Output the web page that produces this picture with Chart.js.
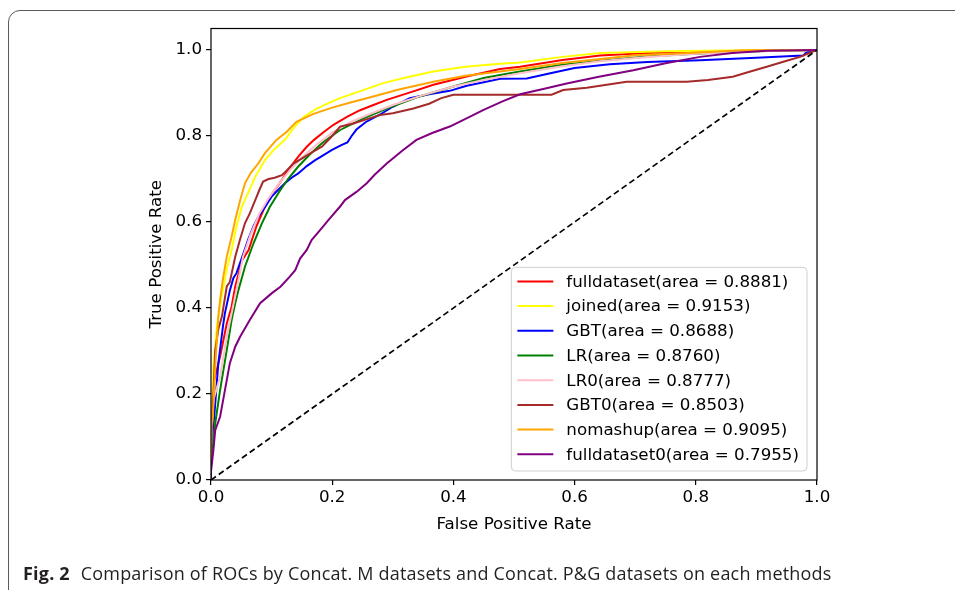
<!DOCTYPE html>
<html>
<head>
<meta charset="utf-8">
<script src="https://cdn.jsdelivr.net/npm/chart.js@4.4.1/dist/chart.umd.min.js"></script>
<style>
  html, body { margin: 0; padding: 0; background: #fff; }
  body { width: 955px; height: 590px; position: relative; overflow: hidden; }
  #frame {
    position: absolute; left: 8px; top: 10px; width: 1000px; height: 620px;
    border: 1.5px solid #5a5a5a; border-radius: 12px; box-sizing: border-box;
  }
  #wrap { position: absolute; left: 0; top: 0; width: 955px; height: 590px; }
  #caption {
    position: absolute; left: 23px; top: 564px; white-space: nowrap;
    font-family: "Open Sans", sans-serif; font-size: 18px; line-height: 18px; color: #231f20;
    letter-spacing: 0.2px;
  }
  #caption b { font-weight: 700; margin-right: 6px; }
</style>
</head>
<body>
<div id="frame"></div>
<div id="wrap"><canvas id="rocChart" width="955" height="590"></canvas></div>
<div id="caption"><b>Fig. 2</b> Comparison of ROCs by Concat. M datasets and Concat. P&amp;G datasets on each methods</div>

<script>
// ---- data: [false positive rate, true positive rate]
const xTicks = [0, 0.2, 0.4, 0.6, 0.8, 1.0];
const yTicks = [0, 0.2, 0.4, 0.6, 0.8, 1.0];

const names = ["fulldataset", "joined", "GBT", "LR", "LR0", "GBT0", "nomashup", "fulldataset0"];
const areas = [0.8881, 0.9153, 0.8688, 0.8760, 0.8777, 0.8503, 0.9095, 0.7955];

const fulldataset = [[0,0],[0,0.10],[0.004,0.225],[0.015,0.287],[0.026,0.364],[0.034,0.403],[0.040,0.45],
  [0.051,0.51],[0.062,0.535],[0.075,0.59],[0.089,0.636],[0.103,0.67],[0.117,0.698],[0.130,0.726],[0.144,0.752],
  [0.158,0.775],[0.170,0.791],[0.185,0.808],[0.202,0.826],[0.225,0.845],[0.246,0.860],[0.268,0.872],[0.290,0.884],
  [0.330,0.902],[0.367,0.919],[0.42,0.938],[0.477,0.956],[0.51,0.961],[0.58,0.977],[0.642,0.987],[0.72,0.993],
  [0.807,0.996],[0.9,0.999],[1,1]];
const joined = [[0,0],[0,0.08],[0.004,0.264],[0.010,0.36],[0.018,0.43],[0.026,0.49],[0.034,0.535],[0.042,0.59],
  [0.051,0.636],[0.062,0.67],[0.073,0.705],[0.089,0.744],[0.105,0.77],[0.122,0.791],[0.137,0.82],[0.152,0.843],
  [0.17,0.86],[0.19,0.874],[0.213,0.888],[0.25,0.906],[0.284,0.923],[0.325,0.937],[0.367,0.950],[0.42,0.961],
  [0.477,0.968],[0.51,0.971],[0.58,0.984],[0.642,0.993],[0.75,0.997],[0.85,0.999],[1,1]];
const gbt = [[0,0],[0,0.06],[0.006,0.16],[0.012,0.27],[0.020,0.36],[0.023,0.388],[0.031,0.44],[0.037,0.47],
  [0.042,0.481],[0.053,0.525],[0.062,0.562],[0.070,0.59],[0.078,0.612],[0.090,0.637],[0.100,0.659],[0.111,0.675],
  [0.122,0.690],[0.133,0.703],[0.144,0.713],[0.158,0.73],[0.172,0.744],[0.185,0.755],[0.199,0.767],[0.215,0.779],
  [0.225,0.785],[0.232,0.80],[0.240,0.815],[0.255,0.832],[0.279,0.850],[0.30,0.868],[0.328,0.888],[0.36,0.897],
  [0.394,0.905],[0.422,0.917],[0.45,0.925],[0.477,0.933],[0.521,0.934],[0.56,0.946],[0.60,0.958],[0.658,0.967],
  [0.72,0.972],[0.807,0.976],[0.9,0.982],[0.977,0.987],[0.982,0.994],[1,1]];
const lr = [[0,0],[0,0.05],[0.007,0.132],[0.015,0.209],[0.026,0.302],[0.034,0.372],[0.040,0.411],[0.045,0.44],
  [0.056,0.496],[0.070,0.55],[0.084,0.597],[0.097,0.635],[0.111,0.667],[0.127,0.70],[0.144,0.729],[0.163,0.757],
  [0.183,0.783],[0.213,0.814],[0.25,0.84],[0.290,0.864],[0.34,0.89],[0.400,0.915],[0.45,0.935],[0.477,0.942],
  [0.51,0.950],[0.58,0.966],[0.642,0.975],[0.72,0.985],[0.807,0.992],[0.9,0.997],[1,1]];
const lr0 = [[0,0],[0,0.08],[0.004,0.186],[0.015,0.240],[0.026,0.333],[0.042,0.442],[0.053,0.52],[0.065,0.57],
  [0.08,0.62],[0.095,0.655],[0.11,0.685],[0.13,0.72],[0.15,0.75],[0.17,0.775],[0.2,0.808],[0.23,0.832],[0.26,0.85],
  [0.3,0.872],[0.35,0.895],[0.4,0.915],[0.45,0.93],[0.51,0.946],[0.58,0.962],[0.642,0.974],[0.72,0.984],
  [0.807,0.992],[0.9,0.997],[1,1]];
const gbt0 = [[0,0],[0,0.09],[0.004,0.2],[0.007,0.302],[0.012,0.35],[0.018,0.380],[0.026,0.450],[0.031,0.46],
  [0.040,0.519],[0.048,0.56],[0.056,0.597],[0.064,0.62],[0.073,0.651],[0.080,0.675],[0.086,0.694],[0.095,0.700],
  [0.105,0.703],[0.117,0.709],[0.125,0.72],[0.136,0.736],[0.155,0.752],[0.170,0.765],[0.183,0.775],[0.20,0.80],
  [0.213,0.822],[0.235,0.829],[0.255,0.838],[0.279,0.849],[0.30,0.853],[0.334,0.864],[0.36,0.875],[0.38,0.888],
  [0.400,0.896],[0.44,0.896],[0.562,0.896],[0.581,0.907],[0.62,0.912],[0.686,0.926],[0.785,0.926],[0.82,0.93],
  [0.861,0.938],[0.89,0.95],[0.917,0.961],[0.95,0.975],[0.972,0.984],[1,1]];
const nomashup = [[0,0],[0,0.12],[0.003,0.147],[0.007,0.264],[0.012,0.380],[0.015,0.419],[0.020,0.47],
  [0.026,0.519],[0.034,0.566],[0.040,0.605],[0.048,0.65],[0.056,0.690],[0.066,0.715],[0.078,0.736],[0.089,0.760],
  [0.108,0.791],[0.125,0.81],[0.141,0.833],[0.168,0.851],[0.2,0.866],[0.23,0.878],[0.257,0.888],[0.31,0.908],
  [0.367,0.926],[0.42,0.940],[0.477,0.950],[0.51,0.956],[0.58,0.970],[0.642,0.979],[0.70,0.988],[0.807,0.994],
  [0.87,0.999],[1,1]];
const fulldataset0 = [[0,0],[0,0.02],[0.004,0.07],[0.007,0.116],[0.015,0.147],[0.023,0.209],[0.031,0.271],
  [0.040,0.31],[0.048,0.333],[0.064,0.372],[0.081,0.411],[0.100,0.434],[0.115,0.45],[0.130,0.473],[0.139,0.488],
  [0.147,0.515],[0.158,0.535],[0.166,0.558],[0.180,0.581],[0.194,0.605],[0.213,0.636],[0.221,0.651],[0.240,0.67],
  [0.257,0.690],[0.270,0.71],[0.290,0.736],[0.315,0.765],[0.339,0.791],[0.365,0.807],[0.394,0.822],[0.42,0.84],
  [0.449,0.860],[0.48,0.88],[0.510,0.897],[0.55,0.91],[0.587,0.922],[0.64,0.938],[0.697,0.953],[0.75,0.969],
  [0.807,0.984],[0.86,0.993],[0.917,0.998],[1,1]];
const chance = [[0,0],[1,1]];

const curves = [fulldataset, joined, gbt, lr, lr0, gbt0, nomashup, fulldataset0];
const colors = ["#ff0000", "#ffff00", "#0000ff", "#008000", "#ffc0cb", "#a52a2a", "#ffa500", "#800080"];

const FONT = "DejaVu Sans";
const FS = 16.7;

// matplotlib-like box around the axes
const spines = {
  id: "spines",
  afterDatasetsDraw(chart) {
    const {ctx, chartArea: a} = chart;
    ctx.save();
    ctx.strokeStyle = "#000";
    ctx.lineWidth = 1.2;
    ctx.strokeRect(a.left, a.top, a.right - a.left, a.bottom - a.top);
    ctx.restore();
  }
};

// legend in the lower right corner, like loc="lower right"
const roclegend = {
  id: "roclegend",
  afterDraw(chart) {
    const {ctx, chartArea: a} = chart;
    const items = chart.data.datasets.filter(d => d.label);
    ctx.save();
    ctx.font = FS + "px '" + FONT + "'";
    let tw = 0;
    items.forEach(d => { tw = Math.max(tw, ctx.measureText(d.label).width); });
    const rowH = 24.7;
    const w = 6 + 36 + 13 + tw + 8;
    const h = rowH * items.length + 6;
    const right = a.right - 10, bottom = a.bottom - 9;
    const left = right - w, top = bottom - h;
    ctx.beginPath();
    ctx.roundRect(left, top, w, h, 4);
    ctx.fillStyle = "rgba(255,255,255,0.85)";
    ctx.fill();
    ctx.strokeStyle = "#d0d0d0";
    ctx.lineWidth = 1;
    ctx.stroke();
    ctx.textBaseline = "middle";
    ctx.textAlign = "left";
    items.forEach((d, i) => {
      const y = top + 14 + i * rowH;
      ctx.beginPath();
      ctx.moveTo(left + 6, y);
      ctx.lineTo(left + 42, y);
      ctx.strokeStyle = d.borderColor;
      ctx.lineWidth = 2;
      ctx.stroke();
      ctx.fillStyle = "#000";
      ctx.fillText(d.label, left + 55, y + 1);
    });
    ctx.restore();
  }
};

const datasets = curves.map((pts, i) => ({
  label: names[i] + "(area = " + areas[i].toFixed(4) + ")",
  data: pts.map(p => ({x: p[0], y: p[1]})),
  borderColor: colors[i],
  borderWidth: 2,
  order: curves.length - i,
  showLine: true,
  pointRadius: 0,
  tension: 0
}));
datasets.push({
  label: "",
  data: chance.map(p => ({x: p[0], y: p[1]})),
  borderColor: "#000",
  borderWidth: 1.7,
  borderDash: [6, 3.5],
  order: 0,
  showLine: true,
  pointRadius: 0
});

const tickFont = {family: FONT, size: FS};

new Chart(document.getElementById("rocChart"), {
  type: "scatter",
  data: {datasets},
  options: {
    responsive: false,
    animation: false,
    layout: {padding: {left: 147, right: 138, top: 28.5, bottom: 55}},
    plugins: {legend: {display: false}, tooltip: {enabled: false}},
    scales: {
      x: {
        type: "linear", min: 0, max: 1, bounds: "data",
        afterBuildTicks: s => { s.ticks = xTicks.map(v => ({value: v})); },
        afterFit: s => { s.height = 55; },
        ticks: {font: tickFont, color: "#000", padding: 3, maxRotation: 0,
          callback: v => Number(v).toFixed(1)},
        grid: {drawOnChartArea: false, drawTicks: true, tickLength: 5, color: "#000", lineWidth: 1.2},
        border: {display: false},
        title: {display: true, text: "False Positive Rate", font: tickFont, color: "#000", padding: 0}
      },
      y: {
        type: "linear", min: 0, max: 1.05, bounds: "data",
        afterBuildTicks: s => { s.ticks = yTicks.map(v => ({value: v})); },
        afterFit: s => { s.width = 64; },
        ticks: {font: tickFont, color: "#000", padding: 4,
          callback: v => Number(v).toFixed(1)},
        grid: {drawOnChartArea: false, drawTicks: true, tickLength: 5, color: "#000", lineWidth: 1.2},
        border: {display: false},
        title: {display: true, text: "True Positive Rate", font: tickFont, color: "#000", padding: 0}
      }
    }
  },
  plugins: [spines, roclegend]
});
</script>
</body>
</html>
